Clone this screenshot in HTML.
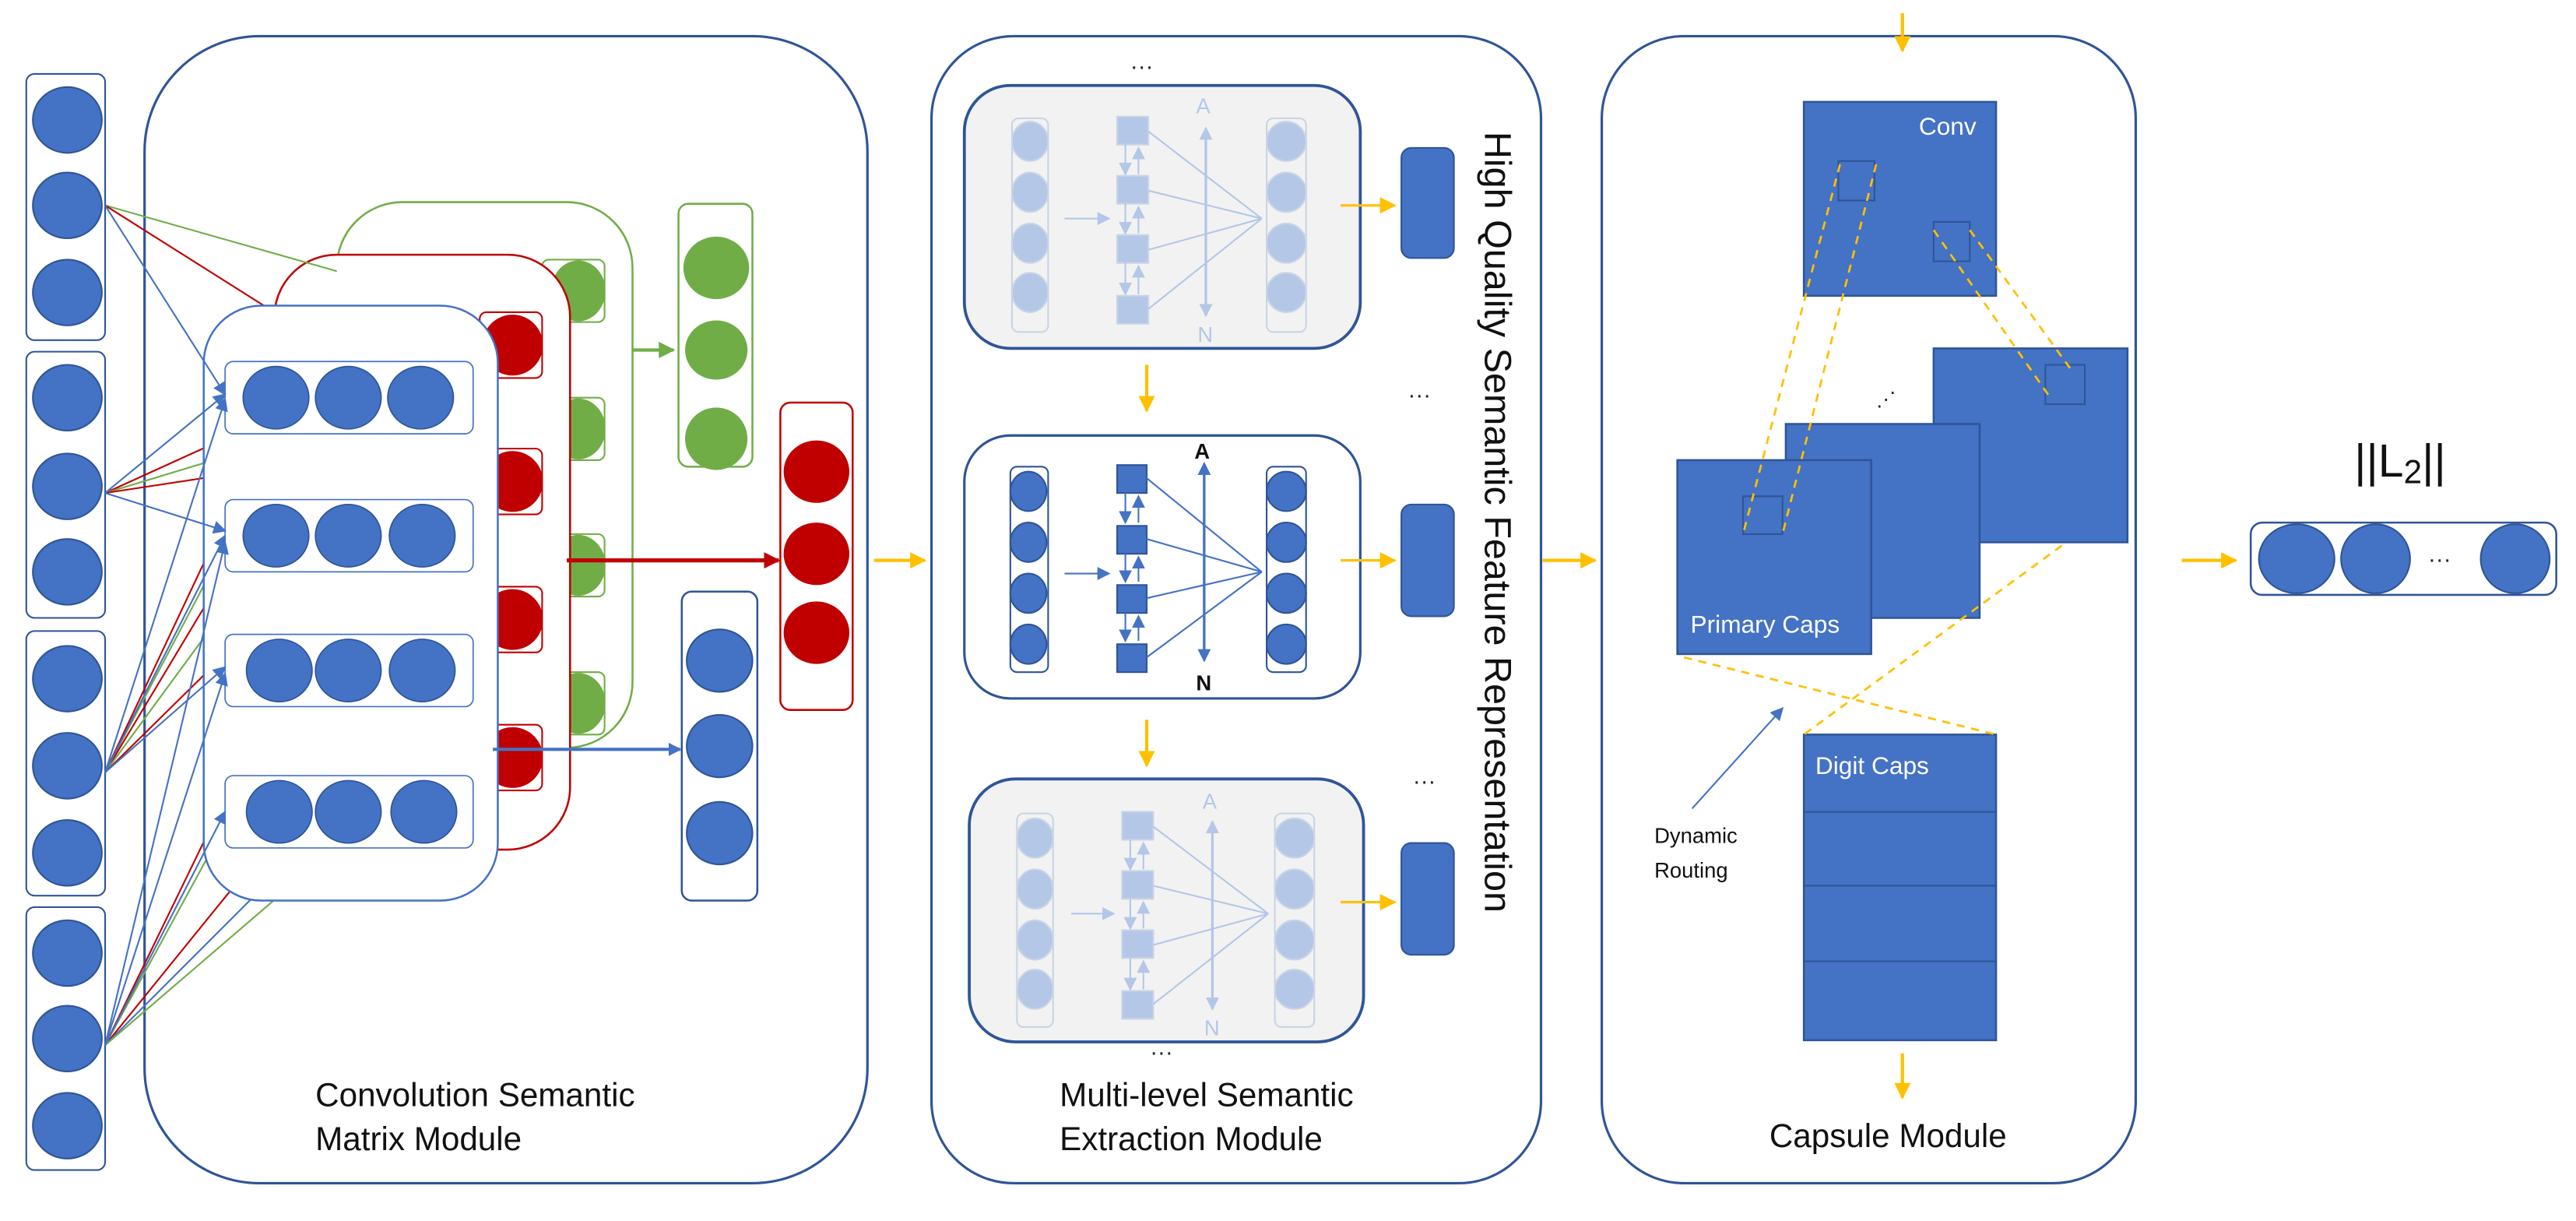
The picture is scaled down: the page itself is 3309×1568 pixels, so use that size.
<!DOCTYPE html>
<html><head><meta charset="utf-8"><style>html,body{margin:0;padding:0;background:#fff}svg{display:block}text{font-family:"Liberation Sans",sans-serif}</style></head><body>
<svg width="3309" height="1568" viewBox="0 0 1568 743" preserveAspectRatio="none" xmlns="http://www.w3.org/2000/svg">
<defs>
<marker id="ab" markerWidth="8" markerHeight="8" refX="7" refY="4" orient="auto" markerUnits="userSpaceOnUse"><path d="M0,0 L8,4 L0,8z" fill="#4472c4"/></marker>
<marker id="ar" markerWidth="10" markerHeight="10" refX="9" refY="5" orient="auto" markerUnits="userSpaceOnUse"><path d="M0,0 L10,5 L0,10z" fill="#c00000"/></marker>
<marker id="ag" markerWidth="10" markerHeight="10" refX="9" refY="5" orient="auto" markerUnits="userSpaceOnUse"><path d="M0,0 L10,5 L0,10z" fill="#70ad47"/></marker>
<marker id="ao" markerWidth="10" markerHeight="10" refX="9" refY="5" orient="auto" markerUnits="userSpaceOnUse"><path d="M0,0 L10,5 L0,10z" fill="#ffc000"/></marker>
<marker id="al" markerWidth="8" markerHeight="8" refX="7" refY="4" orient="auto" markerUnits="userSpaceOnUse"><path d="M0,0 L8,4 L0,8z" fill="#b4c7e7"/></marker>
</defs>

<rect x="88" y="22" width="440" height="698" rx="70" fill="none" stroke="#2f5597" stroke-width="1.5"/>
<rect x="567" y="22" width="371" height="698" rx="50" fill="none" stroke="#2f5597" stroke-width="1.5"/>
<rect x="975" y="22" width="325" height="698" rx="50" fill="none" stroke="#2f5597" stroke-width="1.5"/>

<g fill="#4472c4" stroke="#2f5597" stroke-width="1">
<rect x="16" y="45" width="48" height="162" rx="5" fill="none" stroke="#2f5597"/>
<rect x="16" y="214" width="48" height="162" rx="5" fill="none" stroke="#2f5597"/>
<rect x="16" y="384" width="48" height="161" rx="5" fill="none" stroke="#2f5597"/>
<rect x="16" y="552" width="48" height="160" rx="5" fill="none" stroke="#2f5597"/>
<ellipse cx="41" cy="73" rx="21" ry="20"/><ellipse cx="41" cy="125" rx="21" ry="20"/><ellipse cx="41" cy="178" rx="21" ry="20"/>
<ellipse cx="41" cy="242" rx="21" ry="20"/><ellipse cx="41" cy="296" rx="21" ry="20"/><ellipse cx="41" cy="348" rx="21" ry="20"/>
<ellipse cx="41" cy="413" rx="21" ry="20"/><ellipse cx="41" cy="466" rx="21" ry="20"/><ellipse cx="41" cy="519" rx="21" ry="20"/>
<ellipse cx="41" cy="580" rx="21" ry="20"/><ellipse cx="41" cy="632" rx="21" ry="20"/><ellipse cx="41" cy="685" rx="21" ry="20"/>
</g>

<rect x="205" y="123" width="180" height="332" rx="40" fill="#fff" stroke="#70ad47" stroke-width="1.2"/>
<g fill="#70ad47" stroke="#70ad47">
<rect x="330" y="158" width="38" height="38" rx="4" fill="#fff"/><ellipse cx="352" cy="177" rx="16" ry="18"/>
<rect x="330" y="242" width="38" height="38" rx="4" fill="#fff"/><ellipse cx="352" cy="261" rx="16" ry="18"/>
<rect x="330" y="325" width="38" height="38" rx="4" fill="#fff"/><ellipse cx="352" cy="344" rx="16" ry="18"/>
<rect x="330" y="409" width="38" height="38" rx="4" fill="#fff"/><ellipse cx="352" cy="428" rx="16" ry="18"/>
</g>
<rect x="167" y="155" width="180" height="362" rx="38" fill="#fff" stroke="#c00000" stroke-width="1.2"/>
<g fill="#c00000" stroke="#c00000">
<rect x="292" y="190" width="38" height="40" rx="4" fill="#fff"/><ellipse cx="312" cy="210" rx="18" ry="18"/>
<rect x="292" y="273" width="38" height="40" rx="4" fill="#fff"/><ellipse cx="312" cy="293" rx="18" ry="18"/>
<rect x="292" y="357" width="38" height="40" rx="4" fill="#fff"/><ellipse cx="312" cy="377" rx="18" ry="18"/>
<rect x="292" y="441" width="38" height="40" rx="4" fill="#fff"/><ellipse cx="312" cy="461" rx="18" ry="18"/>
</g>

<g stroke-width="1" fill="none">
<line x1="64" y1="125" x2="205" y2="165" stroke="#70ad47"/>
<line x1="64" y1="125" x2="167" y2="190" stroke="#c00000"/>
<line x1="64" y1="300" x2="130" y2="270" stroke="#c00000"/>
<line x1="64" y1="300" x2="130" y2="280" stroke="#70ad47"/>
<line x1="64" y1="300" x2="130" y2="290" stroke="#c00000"/>
<line x1="64" y1="470" x2="130" y2="330" stroke="#c00000"/>
<line x1="64" y1="470" x2="130" y2="345" stroke="#70ad47"/>
<line x1="64" y1="470" x2="130" y2="360" stroke="#c00000"/>
<line x1="64" y1="470" x2="130" y2="380" stroke="#70ad47"/>
<line x1="64" y1="470" x2="130" y2="405" stroke="#c00000"/>
<line x1="64" y1="636" x2="130" y2="500" stroke="#c00000"/>
<line x1="64" y1="636" x2="130" y2="515" stroke="#70ad47"/>
<line x1="64" y1="636" x2="150" y2="530" stroke="#c00000"/>
<line x1="64" y1="636" x2="160" y2="540" stroke="#4472c4"/>
<line x1="64" y1="636" x2="170" y2="545" stroke="#70ad47"/>
</g>

<rect x="124" y="186" width="179" height="362" rx="35" fill="#fff" stroke="#4472c4" stroke-width="1.2"/>
<g fill="#4472c4" stroke="#2f5597" stroke-width="0.8">
<rect x="137" y="220" width="151" height="44" rx="5" fill="none" stroke="#4472c4"/>
<ellipse cx="168" cy="242" rx="20" ry="19"/><ellipse cx="212" cy="242" rx="20" ry="19"/><ellipse cx="256" cy="242" rx="20" ry="19"/>
<rect x="137" y="304" width="151" height="44" rx="5" fill="none" stroke="#4472c4"/>
<ellipse cx="168" cy="326" rx="20" ry="19"/><ellipse cx="212" cy="326" rx="20" ry="19"/><ellipse cx="257" cy="326" rx="20" ry="19"/>
<rect x="137" y="386" width="151" height="44" rx="5" fill="none" stroke="#4472c4"/>
<ellipse cx="170" cy="408" rx="20" ry="19"/><ellipse cx="212" cy="408" rx="20" ry="19"/><ellipse cx="257" cy="408" rx="20" ry="19"/>
<rect x="137" y="472" width="151" height="44" rx="5" fill="none" stroke="#4472c4"/>
<ellipse cx="170" cy="494" rx="20" ry="19"/><ellipse cx="212" cy="494" rx="20" ry="19"/><ellipse cx="258" cy="494" rx="20" ry="19"/>
</g>
<g stroke-width="1" fill="none" stroke="#4472c4">
<line x1="64" y1="125" x2="137" y2="240" marker-end="url(#ab)"/>
<line x1="64" y1="300" x2="137" y2="240" marker-end="url(#ab)"/>
<line x1="64" y1="300" x2="137" y2="323" marker-end="url(#ab)"/>
<line x1="64" y1="470" x2="137" y2="243" marker-end="url(#ab)"/>
<line x1="64" y1="470" x2="137" y2="326" marker-end="url(#ab)"/>
<line x1="64" y1="470" x2="137" y2="406" marker-end="url(#ab)"/>
<line x1="64" y1="636" x2="137" y2="330" marker-end="url(#ab)"/>
<line x1="64" y1="636" x2="137" y2="410" marker-end="url(#ab)"/>
<line x1="64" y1="636" x2="137" y2="494" marker-end="url(#ab)"/>
</g>

<rect x="413" y="124" width="45" height="160" rx="6" fill="none" stroke="#70ad47" stroke-width="1.2"/>
<g fill="#70ad47"><ellipse cx="436" cy="163" rx="20" ry="19"/><ellipse cx="436" cy="213" rx="19" ry="18"/><ellipse cx="436" cy="267" rx="19" ry="19"/></g>
<rect x="475" y="245" width="44" height="187" rx="6" fill="none" stroke="#c00000" stroke-width="1.2"/>
<g fill="#c00000"><ellipse cx="497" cy="287" rx="20" ry="19"/><ellipse cx="497" cy="337" rx="20" ry="19"/><ellipse cx="497" cy="385" rx="20" ry="19"/></g>
<rect x="415" y="360" width="46" height="188" rx="6" fill="none" stroke="#2f5597" stroke-width="1.2"/>
<g fill="#4472c4" stroke="#2f5597"><ellipse cx="438" cy="402" rx="20" ry="19"/><ellipse cx="438" cy="454" rx="20" ry="19"/><ellipse cx="438" cy="507" rx="20" ry="19"/></g>
<line x1="385" y1="213" x2="410" y2="213" stroke="#70ad47" stroke-width="2" marker-end="url(#ag)"/>
<line x1="345" y1="341" x2="474" y2="341" stroke="#c00000" stroke-width="2.5" marker-end="url(#ar)"/>
<line x1="300" y1="456" x2="414" y2="456" stroke="#4472c4" stroke-width="2" marker-end="url(#ab)"/>
<text x="192" y="673" font-size="20" fill="#111">Convolution Semantic</text>
<text x="192" y="700" font-size="20" fill="#111">Matrix Module</text>

<line x1="532" y1="341" x2="563" y2="341" stroke="#ffc000" stroke-width="2" marker-end="url(#ao)"/>

<rect x="587" y="52" width="241" height="160" rx="28" fill="#f2f2f2" stroke="#2f5597" stroke-width="1.8"/>
<rect x="590" y="474" width="240" height="160" rx="28" fill="#f2f2f2" stroke="#2f5597" stroke-width="1.8"/>
<rect x="587" y="265" width="241" height="160" rx="28" fill="#fff" stroke="#2f5597" stroke-width="1.5"/>

<g fill="#b4c7e7" stroke="#c9d4e6" stroke-width="1">
<rect x="616" y="72" width="22" height="130" rx="4" fill="none"/>
<ellipse cx="627" cy="86" rx="11" ry="12"/><ellipse cx="627" cy="117" rx="11" ry="12"/><ellipse cx="627" cy="148" rx="11" ry="12"/><ellipse cx="627" cy="178" rx="11" ry="12"/>
<rect x="771" y="72" width="24" height="130" rx="4" fill="none"/>
<ellipse cx="783" cy="86" rx="12" ry="12"/><ellipse cx="783" cy="117" rx="12" ry="12"/><ellipse cx="783" cy="148" rx="12" ry="12"/><ellipse cx="783" cy="178" rx="12" ry="12"/>
<rect x="680" y="71" width="19" height="17"/><rect x="680" y="107" width="19" height="17"/><rect x="680" y="143" width="19" height="17"/><rect x="680" y="180" width="19" height="17"/>
</g>
<g stroke="#b4c7e7" stroke-width="1" fill="none">
<line x1="699" y1="80" x2="768" y2="133"/><line x1="699" y1="116" x2="768" y2="133"/><line x1="699" y1="152" x2="768" y2="133"/><line x1="699" y1="188" x2="768" y2="133"/>
<line x1="734" y1="190" x2="734" y2="78" stroke-width="1.5" marker-end="url(#al)"/><line x1="734" y1="80" x2="734" y2="192" stroke-width="1.5" marker-end="url(#al)"/>
<line x1="648" y1="133" x2="675" y2="133" marker-end="url(#al)"/>
<line x1="685" y1="88" x2="685" y2="106" marker-end="url(#al)"/><line x1="693" y1="106" x2="693" y2="90" marker-end="url(#al)"/>
<line x1="685" y1="124" x2="685" y2="142" marker-end="url(#al)"/><line x1="693" y1="142" x2="693" y2="126" marker-end="url(#al)"/>
<line x1="685" y1="160" x2="685" y2="179" marker-end="url(#al)"/><line x1="693" y1="179" x2="693" y2="162" marker-end="url(#al)"/>
</g>
<text x="728" y="69" font-size="13" fill="#b4c7e7">A</text><text x="729" y="208" font-size="13" fill="#b4c7e7">N</text>

<g fill="#b4c7e7" stroke="#c9d4e6" stroke-width="1">
<rect x="619" y="495" width="22" height="130" rx="4" fill="none"/>
<ellipse cx="630" cy="510" rx="11" ry="12"/><ellipse cx="630" cy="541" rx="11" ry="12"/><ellipse cx="630" cy="572" rx="11" ry="12"/><ellipse cx="630" cy="602" rx="11" ry="12"/>
<rect x="776" y="495" width="24" height="130" rx="4" fill="none"/>
<ellipse cx="788" cy="510" rx="12" ry="12"/><ellipse cx="788" cy="541" rx="12" ry="12"/><ellipse cx="788" cy="572" rx="12" ry="12"/><ellipse cx="788" cy="602" rx="12" ry="12"/>
<rect x="683" y="494" width="19" height="17"/><rect x="683" y="530" width="19" height="17"/><rect x="683" y="566" width="19" height="17"/><rect x="683" y="603" width="19" height="17"/>
</g>
<g stroke="#b4c7e7" stroke-width="1" fill="none">
<line x1="702" y1="503" x2="772" y2="556"/><line x1="702" y1="539" x2="772" y2="556"/><line x1="702" y1="575" x2="772" y2="556"/><line x1="702" y1="611" x2="772" y2="556"/>
<line x1="738" y1="612" x2="738" y2="500" stroke-width="1.5" marker-end="url(#al)"/><line x1="738" y1="502" x2="738" y2="614" stroke-width="1.5" marker-end="url(#al)"/>
<line x1="652" y1="556" x2="678" y2="556" marker-end="url(#al)"/>
<line x1="688" y1="511" x2="688" y2="529" marker-end="url(#al)"/><line x1="696" y1="529" x2="696" y2="513" marker-end="url(#al)"/>
<line x1="688" y1="547" x2="688" y2="565" marker-end="url(#al)"/><line x1="696" y1="565" x2="696" y2="549" marker-end="url(#al)"/>
<line x1="688" y1="583" x2="688" y2="602" marker-end="url(#al)"/><line x1="696" y1="602" x2="696" y2="585" marker-end="url(#al)"/>
</g>
<text x="732" y="492" font-size="13" fill="#b4c7e7">A</text><text x="733" y="630" font-size="13" fill="#b4c7e7">N</text>

<g fill="#4472c4" stroke="#2f5597" stroke-width="1">
<rect x="615" y="284" width="23" height="125" rx="4" fill="none"/>
<ellipse cx="626" cy="299" rx="11" ry="12"/><ellipse cx="626" cy="330" rx="11" ry="12"/><ellipse cx="626" cy="361" rx="11" ry="12"/><ellipse cx="626" cy="392" rx="11" ry="12"/>
<rect x="771" y="284" width="24" height="125" rx="4" fill="none"/>
<ellipse cx="783" cy="299" rx="12" ry="12"/><ellipse cx="783" cy="330" rx="12" ry="12"/><ellipse cx="783" cy="361" rx="12" ry="12"/><ellipse cx="783" cy="392" rx="12" ry="12"/>
<rect x="680" y="283" width="18" height="17"/><rect x="680" y="320" width="18" height="17"/><rect x="680" y="356" width="18" height="17"/><rect x="680" y="392" width="18" height="17"/>
</g>
<g stroke="#4472c4" stroke-width="1" fill="none">
<line x1="698" y1="291" x2="768" y2="348"/><line x1="698" y1="328" x2="768" y2="348"/><line x1="698" y1="364" x2="768" y2="348"/><line x1="698" y1="400" x2="768" y2="348"/>
<line x1="733" y1="400" x2="733" y2="282" stroke-width="1.5" marker-end="url(#ab)"/><line x1="733" y1="284" x2="733" y2="402" stroke-width="1.5" marker-end="url(#ab)"/>
<line x1="648" y1="349" x2="675" y2="349" marker-end="url(#ab)"/>
<line x1="685" y1="300" x2="685" y2="318" marker-end="url(#ab)"/><line x1="693" y1="318" x2="693" y2="302" marker-end="url(#ab)"/>
<line x1="685" y1="337" x2="685" y2="354" marker-end="url(#ab)"/><line x1="693" y1="354" x2="693" y2="339" marker-end="url(#ab)"/>
<line x1="685" y1="373" x2="685" y2="390" marker-end="url(#ab)"/><line x1="693" y1="390" x2="693" y2="375" marker-end="url(#ab)"/>
</g>
<text x="727" y="279" font-size="13" font-weight="bold" fill="#111">A</text><text x="728" y="420" font-size="13" font-weight="bold" fill="#111">N</text>

<text x="688" y="45" font-size="14" fill="#222">···</text>
<text x="700" y="645" font-size="14" fill="#222">···</text>
<text x="857" y="245" font-size="14" fill="#222">···</text>
<text x="860" y="480" font-size="14" fill="#222">···</text>

<g stroke="#ffc000" stroke-width="2">
<line x1="698" y1="222" x2="698" y2="250" marker-end="url(#ao)"/>
<line x1="698" y1="438" x2="698" y2="466" marker-end="url(#ao)"/>
<line x1="816" y1="125" x2="849" y2="125" stroke-width="1.5" marker-end="url(#ao)"/>
<line x1="816" y1="341" x2="849" y2="341" stroke-width="1.5" marker-end="url(#ao)"/>
<line x1="816" y1="549" x2="849" y2="549" stroke-width="1.5" marker-end="url(#ao)"/>
</g>
<g fill="#4472c4" stroke="#2f5597"><rect x="853" y="90" width="32" height="67" rx="6"/><rect x="853" y="307" width="32" height="68" rx="6"/><rect x="853" y="513" width="32" height="68" rx="6"/></g>
<text x="645" y="673" font-size="20" fill="#111">Multi-level Semantic</text>
<text x="645" y="700" font-size="20" fill="#111">Extraction Module</text>
<text transform="translate(904,80) rotate(90)" font-size="23" fill="#111">High Quality Semantic Feature Representation</text>

<line x1="939" y1="341" x2="971" y2="341" stroke="#ffc000" stroke-width="2" marker-end="url(#ao)"/>

<line x1="1158" y1="8" x2="1158" y2="31" stroke="#ffc000" stroke-width="2" marker-end="url(#ao)"/>
<g fill="#4472c4" stroke="#2f5597" stroke-width="1.2">
<rect x="1098" y="62" width="117" height="118"/>
<rect x="1177" y="212" width="118" height="118"/>
<rect x="1087" y="258" width="118" height="118"/>
<rect x="1021" y="280" width="118" height="118"/>
<rect x="1098" y="447" width="117" height="186"/>
</g>
<g fill="none" stroke="#2f5597" stroke-width="1">
<rect x="1119" y="98" width="22" height="24"/><rect x="1177" y="135" width="22" height="24"/>
<rect x="1245" y="222" width="24" height="24"/><rect x="1061" y="302" width="24" height="23"/>
<line x1="1098" y1="494" x2="1215" y2="494"/><line x1="1098" y1="539" x2="1215" y2="539"/><line x1="1098" y1="585" x2="1215" y2="585"/>
</g>
<text x="1168" y="82" font-size="15" fill="#fff">Conv</text>
<text x="1029" y="385" font-size="15" fill="#fff">Primary Caps</text>
<text x="1105" y="471" font-size="15" fill="#fff">Digit Caps</text>
<text x="1142" y="247" font-size="12" fill="#222">⋰</text>
<g stroke="#ffc000" stroke-width="1.3" stroke-dasharray="5,4" fill="none">
<line x1="1120" y1="100" x2="1061" y2="325"/><line x1="1142" y1="100" x2="1085" y2="325"/>
<line x1="1177" y1="140" x2="1248" y2="242"/><line x1="1199" y1="140" x2="1260" y2="224"/>
<line x1="1025" y1="400" x2="1215" y2="447"/><line x1="1255" y1="332" x2="1098" y2="447"/>
</g>
<line x1="1030" y1="492" x2="1085" y2="431" stroke="#4472c4" stroke-width="1" marker-end="url(#ab)"/>
<text x="1007" y="513" font-size="13" fill="#111">Dynamic</text>
<text x="1007" y="534" font-size="13" fill="#111">Routing</text>
<line x1="1158" y1="641" x2="1158" y2="668" stroke="#ffc000" stroke-width="2" marker-end="url(#ao)"/>
<text x="1077" y="698" font-size="20" fill="#111">Capsule Module</text>

<line x1="1328" y1="341" x2="1361" y2="341" stroke="#ffc000" stroke-width="2" marker-end="url(#ao)"/>
<text x="1433" y="290" font-size="28" fill="#111">||L<tspan font-size="20" dy="4">2</tspan><tspan dy="-4">||</tspan></text>
<rect x="1370" y="318" width="186" height="44" rx="7" fill="none" stroke="#2f5597" stroke-width="1.2"/>
<g fill="#4472c4" stroke="#2f5597"><ellipse cx="1398" cy="340" rx="23" ry="21"/><ellipse cx="1446" cy="340" rx="21" ry="21"/><ellipse cx="1531" cy="340" rx="21" ry="21"/></g>
<text x="1478" y="345" font-size="14" fill="#222">···</text>
</svg>
</body></html>
